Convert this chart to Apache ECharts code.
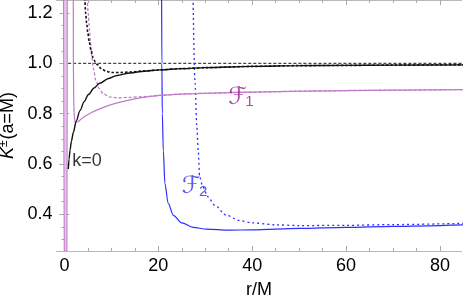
<!DOCTYPE html>
<html>
<head>
<meta charset="utf-8">
<style>html,body{margin:0;padding:0;background:#fff;}#c{width:463px;height:303px;}</style>
<script src="https://cdn.jsdelivr.net/npm/echarts@6/dist/echarts.min.js"></script>
</head>
<body>
<div id="c"></div>
<script>
// ---- data ----
const xMin = -1.7, xMax = 84.6;
const yMin = 0.254, yMax = 1.252;
const xMajor = [0, 20, 40, 60, 80];
const xMinor = [0, 5, 10, 15, 20, 25, 30, 35, 40, 45, 50, 55, 60, 65, 70, 75, 80];
const yMajor = [0.4, 0.6, 0.8, 1.0, 1.2];
const yMinor = [0.25, 0.3, 0.35, 0.4, 0.45, 0.5, 0.55, 0.6, 0.65, 0.7, 0.75, 0.8, 0.85, 0.9, 0.95, 1.0, 1.05, 1.1, 1.15, 1.2, 1.25];

const bandLeft = [[-0.2, 1.252], [-0.15, 0.8], [-0.1, 0.5], [-0.05, 0.254]];
const bandRight = [[0.6, 1.252], [0.58, 0.8], [0.55, 0.5], [0.52, 0.254]];

const kSolid = [[0.82,0.58],[0.98,0.62],[1.18,0.655],[1.48,0.69],[1.88,0.725],[2.5,0.77],[3.3,0.812],[4.2,0.848],[5.1,0.876],[6.3,0.902],[7.5,0.921],[9.4,0.94],[11.2,0.952],[14,0.962],[17,0.969],[20.3,0.974],[25,0.979],[30,0.983],[40,0.988],[50,0.991],[60,0.992],[70,0.993],[85,0.994]];
const kDotted = [[4.35,1.26],[4.5,1.2],[4.72,1.16],[4.98,1.12],[5.28,1.085],[5.68,1.05],[6.1,1.022],[6.6,1.005],[7.0,0.995],[7.9,0.978],[8.9,0.968],[10,0.964],[12,0.964],[14,0.966],[17,0.97],[20.3,0.974],[25,0.979],[30,0.983],[40,0.988],[50,0.991],[60,0.992],[70,0.993],[85,0.994]];
const unitLine = [[0.82,1.0],[85,1.0]];

const f1Solid = [[1.88,1.26],[1.9,1.0],[1.95,0.88],[2.02,0.82],[2.12,0.785],[2.25,0.766],[2.4,0.759],[2.6,0.762],[2.9,0.768],[3.5,0.778],[4.2,0.788],[4.9,0.796],[5.9,0.806],[7.0,0.815],[8.3,0.825],[9.6,0.834],[11.2,0.843],[13,0.851],[14.7,0.858],[16.5,0.864],[18.4,0.869],[20.4,0.873],[23,0.876],[26,0.879],[30,0.881],[35,0.884],[40,0.886],[46,0.888],[52,0.89],[65,0.893],[85,0.896]];
const f1Dashed = [[4.85,1.26],[5.05,1.2],[5.3,1.14],[5.55,1.08],[5.8,1.03],[6.12,0.98],[6.7,0.932],[7.4,0.9],[8.25,0.879],[9.7,0.866],[11.5,0.863],[14,0.865],[17,0.868],[20.4,0.873],[25,0.878],[30,0.881],[40,0.886],[52,0.89],[65,0.893],[85,0.896]];

const f2Solid = [[20.7,1.26],[20.75,1.0],[20.85,0.8],[21.06,0.653],[21.4,0.522],[22.1,0.443],[23.2,0.396],[25.0,0.366],[27.4,0.348],[30.3,0.341],[35,0.337],[40,0.338],[50,0.344],[60,0.348],[70,0.352],[85,0.358]];
const f2Dotted = [[27.4,1.26],[27.8,0.93],[28.2,0.75],[28.5,0.653],[28.8,0.548],[29.5,0.508],[30.6,0.469],[32,0.436],[34.5,0.396],[37.3,0.375],[40,0.366],[45,0.358],[50,0.355],[60,0.356],[70,0.359],[85,0.364]];

const annotations = [
  {text: 'k=0', r: 4.79, v: 0.610, color: '#000000', size: 18, italic: false},
  {text: 'ℱ', r: 36.86, v: 0.864, color: '#8e2490', size: 24, italic: true},
  {text: '1', r: 39.4, v: 0.846, color: '#8e2490', size: 15, italic: false},
  {text: 'ℱ', r: 26.95, v: 0.510, color: '#3030e0', size: 24, italic: true},
  {text: '2', r: 29.57, v: 0.489, color: '#3030e0', size: 15, italic: false}
];

// ---- styling ----
const FONT = 'Liberation Sans, Arial, sans-serif';
const frameColor = '#b8b8b8';
const tickColor = '#a8a8a8';
const PINK = '#c27bcb';
const BLUE = '#2e2eff';
const BLACK = '#111111';

function axisBase(extra) {
  return Object.assign({
    type: 'value', splitLine: {show: false},
    axisLine: {show: true, lineStyle: {color: frameColor, width: 1}},
    axisLabel: {show: false}, axisTick: {show: false}
  }, extra);
}

const xAxes = [
  axisBase({min: xMin, max: xMax, position: 'bottom',
    axisTick: {show: true, inside: true, length: 5, customValues: xMajor, lineStyle: {color: tickColor}},
    axisLabel: {show: true, customValues: xMajor, fontSize: 18, fontFamily: FONT, color: '#000', margin: 6},
    name: 'r/M', nameLocation: 'middle', nameGap: 30,
    nameTextStyle: {fontSize: 18, fontFamily: FONT, color: '#000'}}),
  axisBase({min: xMin, max: xMax, position: 'bottom', axisLine: {show: false},
    axisTick: {show: true, inside: true, length: 3, customValues: xMinor, lineStyle: {color: tickColor}}}),
  axisBase({min: xMin, max: xMax, position: 'top',
    axisTick: {show: true, inside: true, length: 5, customValues: xMajor, lineStyle: {color: tickColor}}}),
  axisBase({min: xMin, max: xMax, position: 'top', axisLine: {show: false},
    axisTick: {show: true, inside: true, length: 3, customValues: xMinor, lineStyle: {color: tickColor}}})
];
const yAxes = [
  axisBase({min: yMin, max: yMax, position: 'left',
    axisTick: {show: true, inside: true, length: 5, customValues: yMajor, lineStyle: {color: tickColor}},
    axisLabel: {show: true, customValues: yMajor, fontSize: 18, fontFamily: FONT, color: '#000', margin: 4,
      formatter: v => v.toFixed(1)},
    name: '{k|K}{p|±}{n|(a=M)}', nameLocation: 'middle', nameGap: 36, nameRotate: 90,
    nameTextStyle: {fontSize: 18, fontFamily: FONT, color: '#000',
      rich: {k: {fontSize: 18, fontStyle: 'italic', fontFamily: FONT},
             p: {fontSize: 12, fontFamily: FONT, verticalAlign: 'top', padding: [0, 1, 8, 0]},
             n: {fontSize: 18, fontFamily: FONT}}}}),
  axisBase({min: yMin, max: yMax, position: 'left', axisLine: {show: false},
    axisTick: {show: true, inside: true, length: 3, customValues: yMinor, lineStyle: {color: tickColor}}}),
  axisBase({min: yMin, max: yMax, position: 'right',
    axisTick: {show: true, inside: true, length: 5, customValues: yMajor, lineStyle: {color: tickColor}}}),
  axisBase({min: yMin, max: yMax, position: 'right', axisLine: {show: false},
    axisTick: {show: true, inside: true, length: 3, customValues: yMinor, lineStyle: {color: tickColor}}})
];

function line(data, color, type, width, z, smooth) {
  return {type: 'line', data: data, xAxisIndex: 0, yAxisIndex: 0, showSymbol: false, symbol: 'none',
    smooth: smooth === undefined ? 0.3 : smooth, smoothMonotone: 'x', clip: true, z: z || 2, silent: true,
    lineStyle: {color: color, width: width, type: type}};
}

const series = [
  {type: 'custom', xAxisIndex: 0, yAxisIndex: 0, silent: true, clip: true, z: 1,
    data: [[0, 0.5]],
    renderItem: function (params, api) {
      const pts = bandLeft.map(p => api.coord(p)).concat(bandRight.slice().reverse().map(p => api.coord(p)));
      return {type: 'polygon', shape: {points: pts}, style: {fill: '#e6c3e9', stroke: PINK, lineWidth: 1}};
    }},
  line(unitLine, '#444444', [3, 2], 1.2, 2),
  line(f2Solid, BLUE, 'solid', 1.2, 3),
  line(f2Dotted, BLUE, [2, 3], 1.3, 3),
  line(f1Solid, PINK, 'solid', 1.2, 3, false),
  line(f1Dashed, PINK, [3, 2], 1.3, 3),
  line(kSolid, BLACK, 'solid', 1.4, 4),
  line(kDotted, BLACK, [2.5, 2], 1.6, 4),
  {type: 'scatter', xAxisIndex: 0, yAxisIndex: 0, symbolSize: 0, itemStyle: {color: 'rgba(0,0,0,0)'}, silent: true, z: 10,
    data: annotations.map(a => ({value: [a.r, a.v],
      label: {show: true, position: 'inside', formatter: a.text, color: a.color, fontSize: a.size,
        fontStyle: a.italic ? 'italic' : 'normal', fontFamily: a.italic ? 'DejaVu Sans, sans-serif' : FONT}}))}
];

const chart = echarts.init(document.getElementById('c'), null, {renderer: 'canvas'});
chart.setOption({
  animation: false,
  backgroundColor: '#ffffff',
  grid: {left: 56.5, right: 1.5, top: 0, bottom: 52, containLabel: false, outerBoundsMode: 'none'},
  xAxis: xAxes,
  yAxis: yAxes,
  series: series
});
</script>
</body>
</html>
